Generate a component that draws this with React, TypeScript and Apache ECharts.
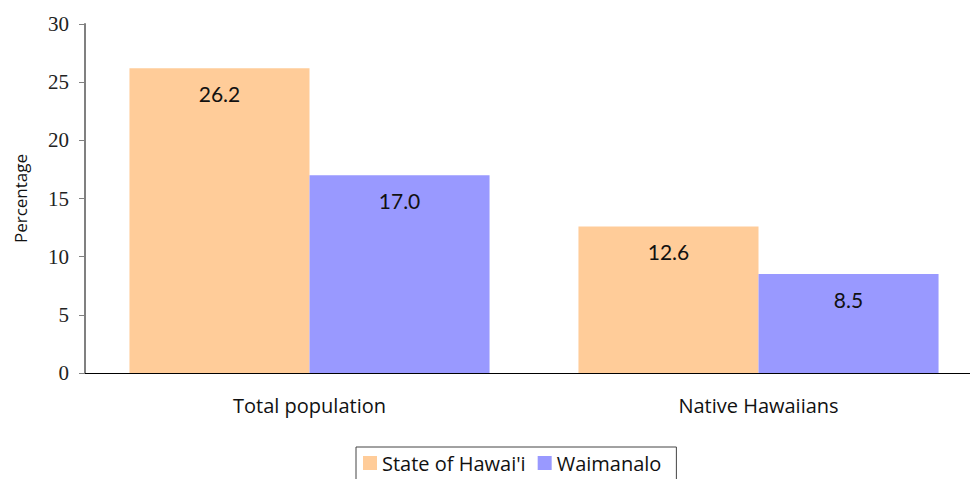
import React, { useEffect, useRef } from "react";
import * as echarts from "echarts";

const categories = ["Total population", "Native Hawaiians"];
const stateValues = [26.2, 12.6];
const waimanaloValues = [17.0, 8.5];
const seriesNames = ["State of Hawai'i", "Waimanalo"];
const yTicks = { min: 0, max: 30, interval: 5 };

const SANS = "'Open Sans', Lato, 'DejaVu Sans', sans-serif";
const LABEL_SANS = "Lato, 'Open Sans', sans-serif";
const SERIF = "'Liberation Serif', 'DejaVu Serif', serif";

export default function App() {
  const ref = useRef<HTMLDivElement>(null);
  useEffect(() => {
    if (!ref.current) return;
    const chart = echarts.init(ref.current, undefined, { renderer: "svg" });
    const label = {
      show: true,
      position: "insideTop" as const,
      distance: 15,
      color: "#111",
      fontFamily: LABEL_SANS,
      fontSize: 21,
      formatter: (p: any) => Number(p.value).toFixed(1),
    };
    chart.setOption({
      animation: false,
      backgroundColor: "#fff",
      grid: { left: 85, top: 24, bottom: 106, right: 7 },
      xAxis: {
        type: "category",
        data: categories,
        axisLine: { lineStyle: { color: "#000", width: 1 } },
        axisTick: { show: false },
        axisLabel: { color: "#111", fontFamily: SANS, fontSize: 20, margin: 22 },
        splitLine: { show: false },
      },
      yAxis: {
        type: "value",
        min: yTicks.min,
        max: yTicks.max,
        interval: yTicks.interval,
        name: "Percentage",
        nameLocation: "middle",
        nameRotate: 90,
        nameGap: 56,
        nameTextStyle: { color: "#111", fontFamily: SANS, fontSize: 17 },
        axisLine: { show: true, lineStyle: { color: "#808080", width: 2 } },
        axisTick: { show: true, length: 6, lineStyle: { color: "#808080" } },
        axisLabel: { color: "#222", fontFamily: SERIF, fontSize: 21, margin: 16 },
        splitLine: { show: false },
      },
      legend: {
        left: 356,
        top: 447,
        orient: "horizontal",
        padding: [6, 15, 14, 7],
        itemWidth: 14,
        itemHeight: 14,
        itemGap: 12,
        borderColor: "#444",
        borderWidth: 1,
        icon: "rect",
        textStyle: { color: "#111", fontFamily: SANS, fontSize: 20 },
        data: seriesNames,
      },
      series: [
        {
          name: seriesNames[0],
          type: "bar",
          data: stateValues,
          barGap: "0%",
          barCategoryGap: "19.8%",
          itemStyle: { color: "#FFCC99" },
          label,
        },
        {
          name: seriesNames[1],
          type: "bar",
          data: waimanaloValues,
          barGap: "0%",
          barCategoryGap: "19.8%",
          itemStyle: { color: "#9999FF" },
          label,
        },
      ],
    });
    return () => chart.dispose();
  }, []);
  return (
    <div style={{ width: 970, height: 479, position: "absolute", left: 0, top: 0, overflow: "hidden" }}>
      <div ref={ref} style={{ width: 990, height: 479 }} />
    </div>
  );
}
